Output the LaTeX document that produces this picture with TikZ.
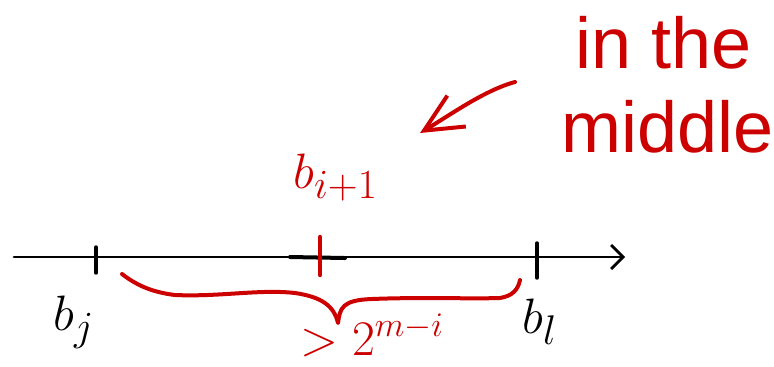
\documentclass[tikz,border=0pt]{standalone}
\usepackage{fontspec}
\setmainfont{Liberation Sans}
\usepackage{xcolor}
\usetikzlibrary{arrows.meta, calc, math, positioning}
\definecolor{penred}{RGB}{205,0,0}

\begin{document}
\begin{tikzpicture}[x=0.5pt,y=-0.5pt,
 pen/.style={line width=1.4pt, line cap=round, line join=round},
 redpen/.style={pen, line width=2pt, color=penred},
 lbl/.style={inner sep=0pt, anchor=base west},
]
\tikzmath{
\ax=257;
}
\useasboundingbox (0,0) rectangle (774,366);

 \coordinate (axL) at (14,\ax);
 \coordinate (axR) at (625,\ax);
 \coordinate (tj) at (96,\ax);
 \coordinate (tm) at (320,\ax);
 \coordinate (tl) at (537,\ax);

 %axis and ticks:
 \draw[pen, -{Straight Barb[length=6pt,width=12pt]}] (axL) -- (axR);
 \draw[pen, line width=2pt] ($(tm)+(-30,0)$) -- ($(tm)+(25,1)$);
 \draw[pen, line width=1.7pt] ($(tj)+(0,-10)$) -- ($(tj)+(0,16)$);
 \draw[pen, line width=1.7pt] ($(tl)+(0,-14)$) -- ($(tl)+(0,21)$);
 \draw[redpen, line width=2.2pt] ($(tm)+(0,-20)$) -- ($(tm)+(0,18)$);

 %labels:
 \node[lbl, font=\fontsize{28}{32}\selectfont] (bj) at (53,330) {$b_j$};
 \node[lbl, font=\fontsize{28}{32}\selectfont] (bl) at (522,333) {$b_l$};
 \node[lbl, penred, font=\fontsize{32}{36}\selectfont] (bmid) at (293,188) {$b_{i+1}$};
 \node[lbl, penred, font=\fontsize{24}{28}\selectfont] (gap) at (300,355) {$>2^{m-i}$};
 \node[inner sep=0pt, anchor=base, penred, font=\fontsize{36}{42}\selectfont] (noteA) at (664,68) {in the};
 \node[inner sep=0pt, anchor=base, penred, font=\fontsize{36}{42}\selectfont] (noteB) at (668,152) {middle};

 %brace under the axis:
 \coordinate (brL) at (122,274);
 \coordinate (brT) at (338,323);
 \coordinate (brR) at (520,280);
 \draw[redpen] (brL) .. controls (135,284) and (150,292) .. (175,295)
   .. controls (220,297) and (260,289) .. (295,293)
   .. controls (322,297) and (334,306) .. (brT)
   .. controls (340,308) and (342,300) .. (372,299)
   .. controls (420,297) and (470,299) .. (500,298)
   .. controls (512,296) and (518,290) .. (brR);

 %pointer to the middle:
 \coordinate (ptS) at (515,82);
 \coordinate (ptE) at (420,133);
 \draw[redpen, -{Straight Barb[length=19pt,width=18pt]}] (ptS) .. controls (485,90) and (450,115) .. (ptE);
\end{tikzpicture}
\end{document}
